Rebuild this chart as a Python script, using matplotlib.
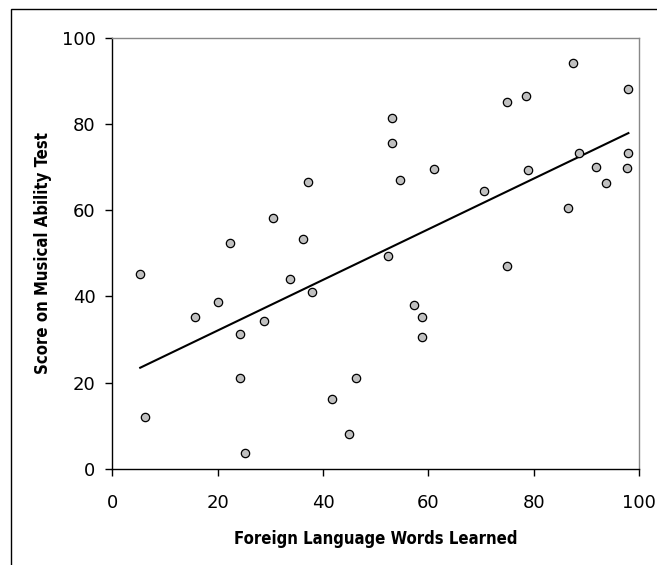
import numpy as np
import matplotlib.pyplot as plt
from matplotlib.patches import Rectangle

# Значения
words_learned = [5.3, 6.3, 15.8, 20.1, 22.3, 24.3, 24.3, 25.2, 28.9, 30.5,
                 33.7, 36.3, 37.1, 37.9, 41.8, 44.9, 46.3, 52.3, 53.1, 53.1,
                 54.7, 57.2, 58.9, 58.9, 61.1, 70.5, 74.9, 74.9, 78.5, 78.9,
                 86.6, 87.5, 88.7, 91.8, 93.7, 97.8, 98.0, 98.0]
music_score = [45.2, 12.0, 35.3, 38.8, 52.3, 31.2, 21.2, 3.7, 34.3, 58.3,
               44.0, 53.3, 66.6, 41.0, 16.2, 8.2, 21.0, 49.5, 81.4, 75.5,
               67.1, 38.0, 35.3, 30.5, 69.6, 64.5, 85.1, 47.1, 86.4, 69.3,
               60.5, 94.1, 73.3, 70.1, 66.3, 69.8, 73.3, 88.1]
ticks = [0, 20, 40, 60, 80, 100]

x = np.array(words_learned)
y = np.array(music_score)

fig = plt.figure(figsize=(6.57, 5.65), dpi=100)
ax = fig.add_axes([0.1709, 0.1700, 0.8016, 0.7631])

# Линия тренда (МНК), как в Excel
slope, intercept = np.polyfit(x, y, 1)
xl = np.array([x.min(), x.max()])
ax.plot(xl, intercept + slope * xl, color='black', lw=1.5, zorder=2)

ax.scatter(x, y, s=36, facecolor='#c0c0c0', edgecolor='black', linewidth=0.9, zorder=3)

ax.set_xlim(0, 100)
ax.set_ylim(0, 100)
ax.set_xticks(ticks)
ax.set_yticks(ticks)

for side in ['top', 'right']:
    ax.spines[side].set_color('#888888')
    ax.spines[side].set_linewidth(1.0)
for side in ['left', 'bottom']:
    ax.spines[side].set_color('black')
    ax.spines[side].set_linewidth(1.0)

ax.tick_params(axis='x', direction='out', length=5, width=1, pad=13, labelsize=13)
ax.tick_params(axis='y', direction='out', length=5, width=1, pad=7, labelsize=13)

ax.set_xlabel("Foreign Language Words Learned", fontsize=12, fontweight='bold',
              fontstretch='condensed', labelpad=13)
ax.set_ylabel("Score on Musical Ability Test", fontsize=12, fontweight='bold',
              fontstretch='condensed', labelpad=7)

# Рамка вокруг области диаграммы (обрезана справа и снизу)
fig.patches.append(Rectangle((11 / 657, -0.05), 1.1, 1 - 9 / 565 + 0.05,
                             transform=fig.transFigure, fill=False,
                             edgecolor='black', linewidth=1.0))

fig.savefig("out.png", dpi=100)
